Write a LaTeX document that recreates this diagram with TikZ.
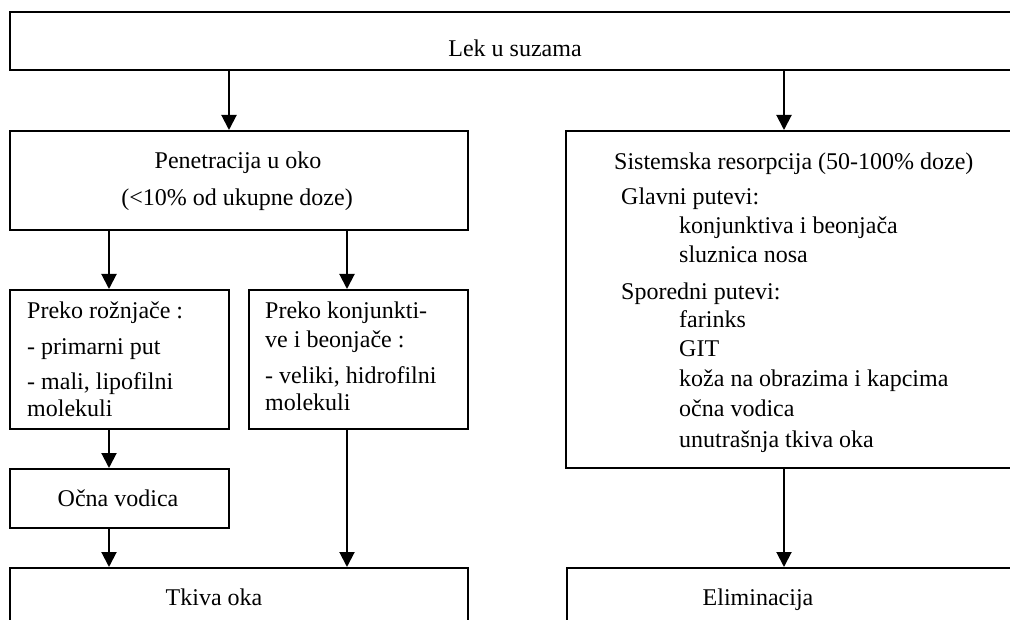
\documentclass[tikz,border=0pt]{standalone}
\usepackage{fontspec}
\setmainfont{Liberation Serif}
\usetikzlibrary{arrows.meta}
\tikzset{
  box/.style={draw, line width=2pt, inner sep=0pt, anchor=north west, fill=none},
  arr/.style={line width=2pt, -{Triangle[length=15pt,width=15pt]}},
  txt/.style={inner sep=0pt, font=\fontsize{24}{27.6}\selectfont},
  lt/.style={txt, anchor=base west},
  ct/.style={txt, anchor=base},
}
\begin{document}
\begin{tikzpicture}[x=1pt,y=-1pt]
\useasboundingbox (0,0) rectangle (1010,620);
\clip (0,0) rectangle (1010,620);
% boxes
\node[box, minimum width=1040pt, minimum height=58pt] (lek) at (9,11) {};
\node[box, minimum width=458pt, minimum height=99pt] (pen) at (9,130) {};
\node[box, minimum width=480pt, minimum height=337pt] (sis) at (565,130) {};
\node[box, minimum width=219pt, minimum height=139pt] (p1) at (9,289) {};
\node[box, minimum width=219pt, minimum height=139pt] (p2) at (248,289) {};
\node[box, minimum width=219pt, minimum height=59pt] (ocna) at (9,468) {};
\node[box, minimum width=458pt, minimum height=90pt] (tkiva) at (9,567) {};
\node[box, minimum width=480pt, minimum height=90pt] (elim) at (566,567) {};
% arrow columns
\coordinate (c1) at (229,0);
\coordinate (c2) at (784,0);
\coordinate (c3) at (109,0);
\coordinate (c4) at (347,0);
% connectors
\draw[arr] (lek.south -| c1) -- (pen.north -| c1);
\draw[arr] (lek.south -| c2) -- (sis.north -| c2);
\draw[arr] (pen.south -| c3) -- (p1.north -| c3);
\draw[arr] (pen.south -| c4) -- (p2.north -| c4);
\draw[arr] (p1.south -| c3) -- (ocna.north -| c3);
\draw[arr] (ocna.south -| c3) -- (tkiva.north -| c3);
\draw[arr] (p2.south -| c4) -- (tkiva.north -| c4);
\draw[arr] (sis.south -| c2) -- (elim.north -| c2);
% texts
\node[ct] (tlek) at (515,57) {Lek u suzama};
\node[ct] (tpen1) at (238,169) {Penetracija u oko};
\node[ct] (tpen2) at (237,206) {(<10\% od ukupne doze)};
\node[lt] (ta1) at (27,319) {Preko rožnjače :};
\node[lt] (ta2) at (27,355) {- primarni put};
\node[lt] (ta3) at (27,390) {- mali, lipofilni};
\node[lt] (ta4) at (27,417) {molekuli};
\node[lt] (tb1) at (265,319) {Preko konjunkti-};
\node[lt] (tb2) at (265,348) {ve i beonjače :};
\node[lt] (tb3) at (265,384) {- veliki, hidrofilni};
\node[lt] (tb4) at (265,410) {molekuli};
\node[ct] (toc) at (118,506) {Očna vodica};
\node[ct] (ttk) at (214,605) {Tkiva oka};
\node[lt] (ts1) at (614,170) {Sistemska resorpcija (50-100\% doze)};
\node[lt] (ts2) at (621,205) {Glavni putevi:};
\node[lt] (ts3) at (679,234) {konjunktiva i beonjača};
\node[lt] (ts4) at (679,263) {sluznica nosa};
\node[lt] (ts5) at (621,300) {Sporedni putevi:};
\node[lt] (ts6) at (679,328) {farinks};
\node[lt] (ts7) at (679,357) {GIT};
\node[lt] (ts8) at (679,387) {koža na obrazima i kapcima};
\node[lt] (ts9) at (679,417) {očna vodica};
\node[lt] (ts10) at (679,447) {unutrašnja tkiva oka};
\node[ct] (tel) at (758,605) {Eliminacija};
\end{tikzpicture}
\end{document}
